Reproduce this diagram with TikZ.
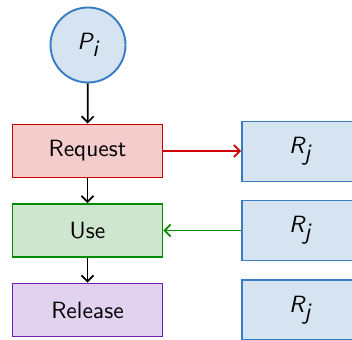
\documentclass[tikz,border=0pt]{standalone}
\usepackage{fontspec}
\setsansfont{lmsans10-regular.otf}[ItalicFont=lmsans10-oblique.otf, BoldFont=lmsans10-bold.otf]
\usetikzlibrary{arrows.meta}
\definecolor{pblue}{RGB}{214,228,241}
\definecolor{pblueline}{RGB}{55,125,195}
\definecolor{reqfill}{RGB}{244,204,204}
\definecolor{reqline}{RGB}{204,0,0}
\definecolor{usefill}{RGB}{205,230,205}
\definecolor{useline}{RGB}{0,140,0}
\definecolor{relfill}{RGB}{225,210,240}
\definecolor{relline}{RGB}{112,32,176}
\tikzset{
  every node/.style={font=\fontsize{23.5}{27}\selectfont\sffamily, inner sep=0pt},
  proc/.style={circle, draw=pblueline, fill=pblue, line width=1.9pt, minimum size=75pt},
  stage/.style={rectangle, line width=1.9pt, minimum width=150pt, minimum height=53pt},
  res/.style={rectangle, draw=pblueline, fill=pblue, line width=1.9pt, minimum width=116pt, minimum height=60pt},
  flow/.style={line width=1.7pt, -{Straight Barb[length=6pt,width=12pt,line width=1.7pt]}},
}
\newcommand{\sfvar}[2]{$\textsf{\itshape #1}_{\textsf{\itshape #2}}$}
\begin{document}
\begin{tikzpicture}[x=1pt,y=-1pt]
  \clip (0,0) rectangle (352,339);
  \fill[white] (0,0) rectangle (352,339);
  \node[proc] (p) at (88,45) {\sfvar{P}{i}};
  \node[stage, draw=reqline, fill=reqfill] (req) at (87.5,151) {Request};
  \node[stage, draw=useline, fill=usefill] (use) at (87.5,230.5) {Use};
  \node[stage, draw=relline, fill=relfill] (rel) at (87.5,310) {Release};
  \node[res] (r1) at (300,151.5) {\sfvar{R}{j}};
  \node[res] (r2) at (300,230.5) {\sfvar{R}{j}};
  \node[res] (r3) at (300,310) {\sfvar{R}{j}};
  \draw[flow] (p) -- (req);
  \draw[flow] (req) -- (use);
  \draw[flow] (use) -- (rel);
  \draw[flow, reqline] (req.east) -- (r1.west |- req.east);
  \draw[flow, useline] (r2.west |- use.east) -- (use.east);
\end{tikzpicture}
\end{document}
